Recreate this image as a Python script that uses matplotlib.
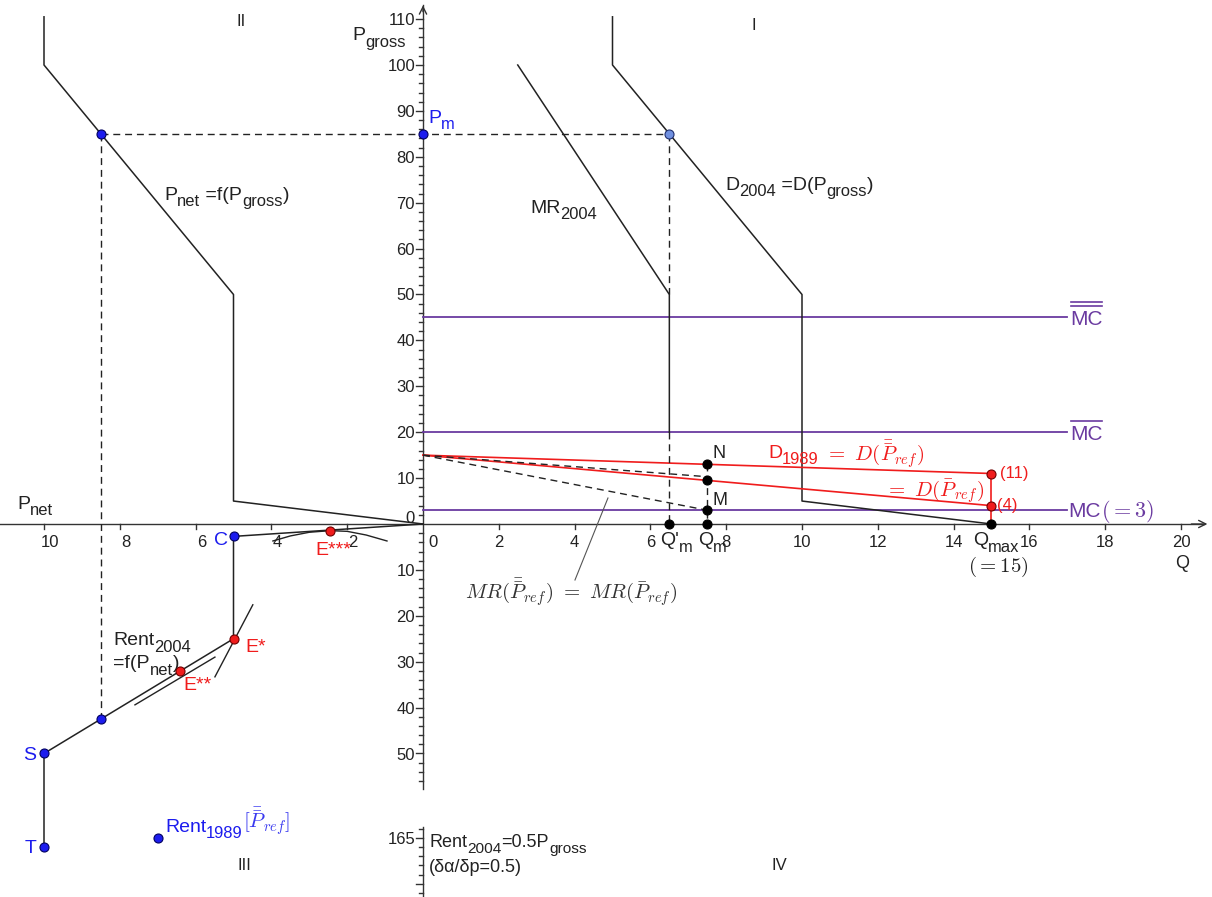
import matplotlib.pyplot as plt

plt.rcParams['font.family'] = ['Liberation Sans', 'DejaVu Sans']

# quadrant I : Q against P_gross
d2004_q = [5, 5, 10, 10, 15]
d2004_p = [110.5, 100, 50, 5, 0]
mr2004_q = [2.5, 6.5, 6.5]
mr2004_p = [100, 50, 20]
mc_levels = [45, 20, 3]
mc_bars = [2, 1, 0]
mc_qmax = 17
d1989_q = [0, 15]
d1989_p = [15, 11]
dbar_q = [0, 15]
dbar_p = [15, 4]
mr1989_q = [0, 7.5]
mr1989_p = [15, 10.3]
mrbar_q = [0, 7.5]
mrbar_p = [15, 3]
q_m_prime, q_m, q_max = 6.5, 7.5, 15
p_m = 85
n_p, mid_p, m_p = 13, 9.5, 3

# quadrant II : P_net (to the left) against P_gross
pnet_x = [10, 10, 5, 5, 0]
pnet_p = [110.5, 100, 50, 5, 0]
pnet_m = 8.5

# quadrant III : P_net against rent (downwards, axis broken past 100)
rent_pnet = [10, 10, 8.5, 6.4, 5, 5, 0]
rent_val = [167, 50, 42.5, 32, 25, 2.7, 0]
e3_pnet, e3_rent = 2.45, 1.45
e3_curve_pnet = [3.96, 3.5, 3.0, 2.45, 2.0, 1.5, 0.95]
e3_curve_rent = [3.7, 2.6, 1.8, 1.45, 1.6, 2.4, 3.7]
tan_e1_pnet = [4.49, 5.49]
tan_e1_rent = [17.6, 33.3]
tan_e2_pnet = [7.6, 5.49]
tan_e2_rent = [39.4, 29.0]
rent1989_pnet, rent1989_val = 7.0, 165
BREAK_AT, BREAK_SHIFT = 100, 96.6

# leader line of the MR label
mr_lead_q = [4.88, 4.01]
mr_lead_p = [5.66, -12.2]

black = '#222222'
axc = '#333333'
red = '#f01c1c'
blue = '#1c1cee'
purple = '#6a3aa0'
dash = (0, (5, 3.5))


def ry(r):
    return -r if r < BREAK_AT else -(r - BREAK_SHIFT)


fig = plt.figure(figsize=(12.12, 8.97), dpi=100)
ax = fig.add_axes([0, 0, 1, 1])
xmin, xmax = -423 / 37.9, 789 / 37.9
ymin, ymax = -373 / 4.59, 524 / 4.59
ax.set_xlim(xmin, xmax)
ax.set_ylim(ymin, ymax)
ax.axis('off')


def rich(x, y, parts, size=14, color=black, **kw):
    # GeoGebra style label: plain text with big, low subscripts
    t = ax.text(x, y, parts[0][0], fontsize=size, color=color, va='baseline', **kw)
    for s, sub in parts[1:]:
        t = ax.annotate(s, xy=(1, y), xycoords=(t, 'data'),
                        xytext=(0, -size * 0.33 if sub else 0), textcoords='offset points',
                        fontsize=size * 0.85 if sub else size, color=color, va='baseline', **kw)
    return t


# ---- axes ----
ax.plot([xmin, 20.6], [0, 0], color=axc, lw=1)
ax.annotate('', xy=(20.77, 0), xytext=(20.2, 0),
            arrowprops=dict(arrowstyle='->', color=axc, lw=1, mutation_scale=13))
ax.plot([0, 0], [-57.7, 113.0], color=axc, lw=1)
ax.annotate('', xy=(0, 113.6), xytext=(0, 111.0),
            arrowprops=dict(arrowstyle='->', color=axc, lw=1, mutation_scale=13))
ax.plot([0, 0], [-66.0, ymin], color=axc, lw=1)

for v in range(-10, 21, 2):
    if v == 0:
        continue
    ax.plot([v, v], [0, -1.0], color=axc, lw=1)
    if v > 0:
        ax.text(v, -3.7, str(v), ha='center', va='center_baseline', fontsize=12, color=black)
    else:
        ax.text(v + 0.15, -3.7, str(-v), ha='center', va='center_baseline', fontsize=12, color=black)
ax.text(0.26, -3.7, '0', ha='center', va='center_baseline', fontsize=12, color=black)

for v in range(-56, 111, 2):
    if v == 0:
        continue
    ln = 0.185 if v % 10 == 0 else 0.105
    ax.plot([-ln, 0], [v, v], color=axc, lw=1)
for v in range(10, 111, 10):
    ax.text(-0.21, v, str(v), ha='right', va='center_baseline', fontsize=12, color=black)
for v in range(10, 51, 10):
    ax.text(-0.21, -v, str(v), ha='right', va='center_baseline', fontsize=12, color=black)
ax.text(-0.21, 1.5, '0', ha='right', va='center_baseline', fontsize=12, color=black)

for r in range(163, 183, 2):
    y = ry(r)
    if y < ymin:
        break
    ln = 0.185 if (r - 165) % 10 == 0 else 0.105
    ax.plot([-ln, 0], [y, y], color=axc, lw=1)
ax.text(-0.21, ry(165), '165', ha='right', va='center_baseline', fontsize=12, color=black)

# ---- quadrant I ----
for lvl in mc_levels:
    ax.plot([0, mc_qmax], [lvl, lvl], color=purple, lw=1.3)
ax.plot(d2004_q, d2004_p, color=black, lw=1.1)
ax.plot(mr2004_q, mr2004_p, color=black, lw=1.1)
ax.plot(d1989_q, d1989_p, color=red, lw=1.2)
ax.plot(dbar_q, dbar_p, color=red, lw=1.2)
ax.plot([q_max, q_max], [d1989_p[1], 0], color=red, lw=1.2)
ax.plot(mr1989_q, mr1989_p, color=black, lw=1, ls=dash)
ax.plot(mrbar_q, mrbar_p, color=black, lw=1, ls=dash)
ax.plot([q_m, q_m], [n_p, 0], color=black, lw=1, ls=dash)
ax.plot([q_m_prime, q_m_prime], [p_m, mr2004_p[1]], color=black, lw=1, ls=dash)
ax.plot([q_m_prime, q_m_prime], [mr2004_p[2], 0], color=black, lw=1, ls=dash)
ax.plot([-pnet_m, q_m_prime], [p_m, p_m], color=black, lw=1, ls=dash)
ax.plot(mr_lead_q, mr_lead_p, color='#555555', lw=0.8)

# ---- quadrant II ----
ax.plot([-v for v in pnet_x], pnet_p, color=black, lw=1.1)
ax.plot([-pnet_m, -pnet_m], [p_m, ry(rent_val[2])], color=black, lw=1, ls=dash)

# ---- quadrant III ----
ax.plot([-v for v in rent_pnet], [ry(v) for v in rent_val], color=black, lw=1.1)
ax.plot([-v for v in e3_curve_pnet], [ry(v) for v in e3_curve_rent], color=black, lw=1)
ax.plot([-v for v in tan_e1_pnet], [ry(v) for v in tan_e1_rent], color=black, lw=1)
ax.plot([-v for v in tan_e2_pnet], [ry(v) for v in tan_e2_rent], color=black, lw=1)


# ---- points ----
def dots(xs, ys, fc, ec):
    ax.plot(xs, ys, 'o', ms=6.5, mfc=fc, mec=ec, mew=0.8, ls='none', zorder=6)


dots([q_m_prime, q_m, q_max, q_m, q_m, q_m], [0, 0, 0, n_p, mid_p, m_p], 'black', 'black')
dots([q_max, q_max], [d1989_p[1], dbar_p[1]], red, '#700000')
dots([-rent_pnet[3], -rent_pnet[4], -e3_pnet], [ry(rent_val[3]), ry(rent_val[4]), ry(e3_rent)], red, '#700000')
dots([0, -pnet_m, -pnet_m, -rent_pnet[0], -rent_pnet[1], -rent_pnet[5], -rent1989_pnet],
     [p_m, p_m, ry(rent_val[2]), ry(rent_val[0]), ry(rent_val[1]), ry(rent_val[5]), ry(rent1989_val)],
     blue, '#000060')
dots([q_m_prime], [p_m], '#7090e0', '#203070')

# ---- labels ----
ax.text(-4.80, 109.4, 'II', fontsize=12, ha='center', va='center', color=black)
ax.text(8.73, 108.7, 'I', fontsize=12, ha='center', va='center', color=black)
ax.text(-4.70, -74.5, 'III', fontsize=12, ha='center', va='center', color=black)
ax.text(9.39, -74.5, 'IV', fontsize=12, ha='center', va='center', color=black)

rich(-1.87, 105.4, [('P', 0), ('gross', 1)])
rich(0.13, 87.4, [('P', 0), ('m', 1)], color=blue)
rich(-6.83, 70.6, [('P', 0), ('net', 1), (' =f(P', 0), ('gross', 1), (')', 0)])
rich(2.82, 67.8, [('MR', 0), ('2004', 1)])
rich(7.97, 72.8, [('D', 0), ('2004', 1), (' =D(P', 0), ('gross', 1), (')', 0)])
rich(-10.71, 3.3, [('P', 0), ('net', 1)])
rich(-8.18, -26.4, [('Rent', 0), ('2004', 1)])
rich(-8.18, -31.4, [('=f(P', 0), ('net', 1), (')', 0)])
ax.text(-4.69, -27.9, 'E*', fontsize=14, color=red, va='baseline')
ax.text(-6.33, -36.2, 'E**', fontsize=14, color=red, va='baseline')
ax.text(-2.85, -6.75, 'E***', fontsize=14, color=red, va='baseline')
ax.text(-5.14, -4.6, 'C', fontsize=14, color=blue, va='baseline', ha='right')
ax.text(-10.21, -51.4, 'S', fontsize=14, color=blue, va='baseline', ha='right')
ax.text(-10.21, -71.7, 'T', fontsize=14, color=blue, va='baseline', ha='right')
t = rich(-6.81, -67.1, [('Rent', 0), ('1989', 1)], color=blue)
ax.annotate(r'$[\bar{\bar{P}}_{ref}]$', xy=(1, -66.4), xycoords=(t, 'data'), va='baseline',
            fontsize=15, color='#3a3af0', math_fontfamily='cm')
rich(6.25, -4.6, [("Q'", 0), ('m', 1)])
rich(7.26, -4.6, [('Q', 0), ('m', 1)])
rich(14.51, -4.6, [('Q', 0), ('max', 1)])
ax.text(15.17, -9.4, r'$(=15)$', fontsize=15, color=black, ha='center', va='center',
        math_fontfamily='cm')
ax.text(20.03, -8.5, 'Q', fontsize=13, color=black, ha='center', va='center')
ax.text(7.65, 14.4, 'N', fontsize=13, color=black, va='baseline')
ax.text(7.65, 4.1, 'M', fontsize=13, color=black, va='baseline')
t = rich(9.1, 14.4, [('D', 0), ('1989', 1)], color=red)
ax.annotate(r'$\ =\ D(\bar{\bar{P}}_{ref})$', xy=(1, 13.6), xycoords=(t, 'data'), va='baseline',
            fontsize=15, color=red, math_fontfamily='cm')
ax.text(12.19, 7.0, r'$=\ D(\bar{P}_{ref})$', fontsize=15, color=red, va='center',
        math_fontfamily='cm')
ax.text(15.22, 10.9, '(11)', fontsize=12, color=red, va='center')
ax.text(15.14, 4.1, '(4)', fontsize=12, color=red, va='center')

# MC labels with hand drawn over-bars
fig.canvas.draw()
inv = ax.transData.inverted()
for lvl, nbar in zip(mc_levels, mc_bars):
    base = lvl - 1.6 if nbar else lvl - 1.5
    t = ax.text(17.07 if nbar else 17.02, base, 'MC', fontsize=15, color=purple, va='baseline')
    if nbar == 0:
        ax.annotate(r'$(=3)$', xy=(1, base), xycoords=(t, 'data'), va='baseline',
                    fontsize=16, color=purple, math_fontfamily='cm')
        continue
    bb = t.get_window_extent(fig.canvas.get_renderer())
    x0 = inv.transform((bb.x0, 0))[0]
    x1 = inv.transform((bb.x1, 0))[0]
    for k in range(nbar):
        yb = base + 4.1 + 0.9 * k
        ax.plot([x0 + 0.02, x1 - 0.02], [yb, yb], color=purple, lw=1.2)

ax.text(3.9, -14.8, r'$MR(\bar{\bar{P}}_{ref})\ =\ MR(\bar{P}_{ref})$', fontsize=15,
        color='#333333', ha='center', va='center', math_fontfamily='cm')
rich(0.16, -70.4, [('Rent', 0), ('2004', 1), ('=0.5P', 0), ('gross', 1)], size=13)
ax.text(0.16, -75.8, '(δα/δp=0.5)', fontsize=13, color=black, va='baseline')

fig.savefig('out.png', dpi=100)
